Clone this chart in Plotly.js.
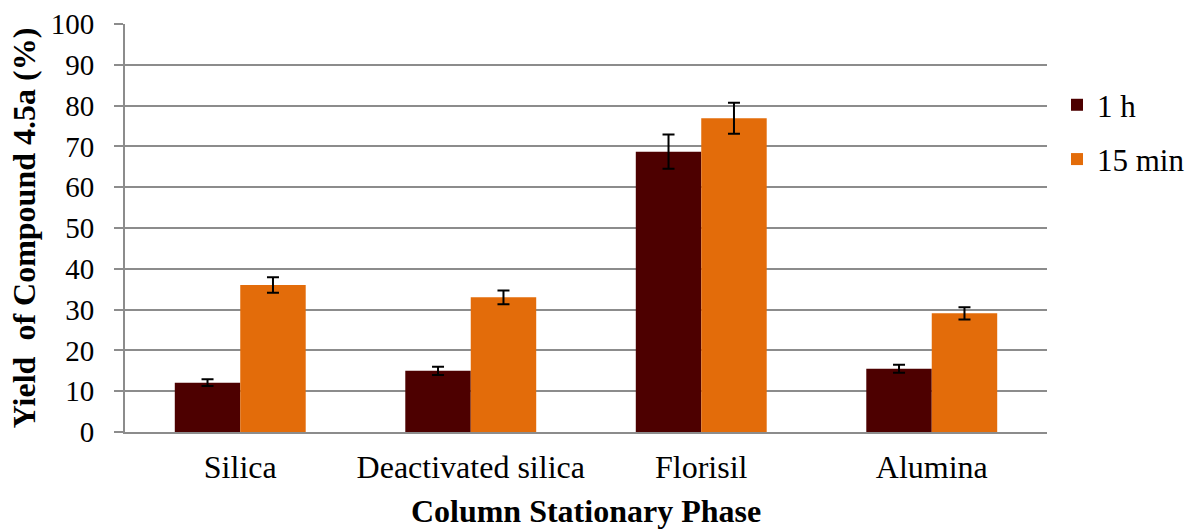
<!DOCTYPE html>
<html>
<head>
<meta charset="utf-8">
<script src="https://cdn.plot.ly/plotly-3.0.1.min.js"></script>
<style>html,body{margin:0;padding:0;background:#fff;}#chart{width:1186px;height:529px;}</style>
</head>
<body>
<div id="chart"></div>
<script>
const categories = ["Silica", "Deactivated silica", "Florisil", "Alumina"];
const yield1h = [12.1, 15.0, 68.7, 15.5];
const err1h = [0.8, 1.0, 4.2, 1.0];
const yield15min = [36.0, 33.0, 76.9, 29.1];
const err15min = [1.9, 1.7, 3.8, 1.5];
const seriesNames = ["1 h", "15 min"];
const yTicks = [0, 10, 20, 30, 40, 50, 60, 70, 80, 90, 100];

const FONT = '"Liberation Serif", serif';

const traces = [
  {
    type: "bar", name: seriesNames[0], x: categories, y: yield1h,
    marker: {color: "#4D0000"},
    error_y: {type: "data", array: err1h, visible: true, color: "#000", thickness: 2, width: 6},
    legendgroup: "a"
  },
  {
    type: "bar", name: seriesNames[1], x: categories, y: yield15min,
    marker: {color: "#E36C0A"},
    error_y: {type: "data", array: err15min, visible: true, color: "#000", thickness: 2, width: 6},
    legendgroup: "b"
  }
];

const layout = {
  width: 1186, height: 529,
  margin: {l: 125, r: 139, t: 24, b: 97},
  paper_bgcolor: "#fff", plot_bgcolor: "#fff",
  font: {family: FONT, color: "#000", size: 30},
  barmode: "group",
  bargap: 0.432,
  bargroupgap: 0,
  showlegend: true,
  legend: {
    x: 1057/1186, xref: "container", y: 0.735, yanchor: "middle", xanchor: "left",
    font: {family: FONT, size: 31, color: "#000"},
    tracegroupgap: 11, traceorder: "grouped",
    bgcolor: "rgba(0,0,0,0)"
  },
  xaxis: {
    type: "category",
    showline: true, linecolor: "#8C8C8C", linewidth: 2,
    ticks: "", showgrid: false,
    tickfont: {family: FONT, size: 32, color: "#000"},
    ticklabelstandoff: 6,
    title: {text: "<b>Column Stationary Phase</b>", font: {family: FONT, size: 32, color: "#000"}, standoff: 18}
  },
  yaxis: {
    range: [0, 100], tickvals: yTicks, ticktext: yTicks.map(String),
    showline: true, linecolor: "#8C8C8C", linewidth: 2,
    ticks: "outside", ticklen: 9, tickcolor: "#8C8C8C", tickwidth: 2,
    showgrid: true, gridcolor: "#8C8C8C", gridwidth: 2,
    zeroline: false,
    tickfont: {family: FONT, size: 29, color: "#000"},
    ticklabelstandoff: 14,
    title: {text: "<b>Yield\u00a0 of Compound 4.5a (%)</b>", font: {family: FONT, size: 32, color: "#000"}, standoff: 6}
  }
};

Plotly.newPlot("chart", traces, layout, {displayModeBar: false, staticPlot: true});
</script>
</body>
</html>
